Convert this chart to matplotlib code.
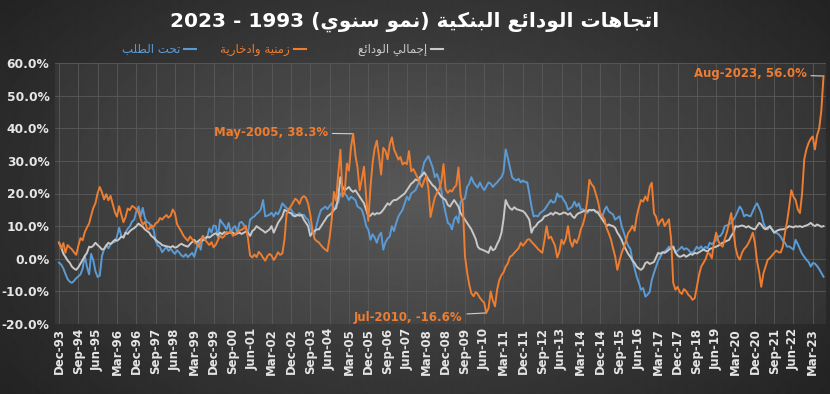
import numpy as np
import pandas as pd
import matplotlib
matplotlib.use('Agg')
import matplotlib.pyplot as plt

plt.rcParams['font.family'] = ['DejaVu Sans']

# ---- data: annual growth of bank deposits (%), monthly Dec-1993 .. Aug-2023 ----
months = pd.date_range('1993-12-01', '2023-08-01', freq='MS')

demand = [-1.2,
    -1.8, -3.0, -4.6, -6.2, -7.0, -7.4, -6.8, -6.0, -5.4, -4.8, -3.0, 1.0,
    -2.5, -4.8, 1.5, -0.5, -3.8, -5.6, -5.2, 0.8, 2.9, 4.3, 3.2, 4.4,
    4.9, 5.2, 6.8, 9.5, 7.0, 6.5, 8.0, 9.2, 10.0, 11.4, 12.0, 14.5,
    16.0, 13.0, 15.6, 12.5, 11.2, 11.0, 9.5, 9.0, 5.4, 4.1, 3.6, 2.0,
    2.8, 3.7, 2.4, 3.1, 2.2, 1.5, 2.6, 1.9, 1.0, 0.6, 1.4, 0.5,
    1.2, 1.8, 0.6, 3.0, 5.0, 2.8, 7.0, 5.8, 6.5, 9.3, 8.0, 10.2,
    10.0, 6.5, 12.0, 11.0, 10.2, 9.0, 11.0, 8.0, 9.5, 10.0, 7.8, 11.0,
    11.3, 10.4, 9.2, 8.0, 12.0, 12.6, 13.0, 13.8, 14.3, 15.2, 18.0, 13.0,
    13.2, 13.5, 14.1, 13.0, 14.2, 13.6, 15.0, 17.0, 16.2, 15.5, 15.0, 15.2,
    14.0, 13.6, 13.2, 14.0, 13.0, 13.5, 12.5, 12.0, 10.0, 8.0, 7.5, 10.5,
    13.0, 15.0, 15.4, 16.0, 15.2, 16.2, 17.0, 15.0, 16.5, 17.2, 20.0, 19.6,
    20.0, 19.2, 18.0, 19.0, 18.5, 18.0, 16.0, 15.6, 15.0, 13.0, 10.0, 9.0,
    5.8, 7.5, 6.5, 4.9, 7.0, 8.0, 2.8, 5.0, 6.2, 6.8, 10.0, 8.5,
    11.0, 13.0, 14.0, 15.0, 17.0, 19.0, 18.0, 20.0, 20.5, 21.0, 22.5, 24.0,
    26.5, 29.5, 30.5, 31.5, 29.8, 28.0, 25.0, 26.0, 24.0, 21.0, 17.0, 14.0,
    11.0, 10.5, 9.0, 12.0, 13.0, 11.0, 17.5, 18.0, 18.5, 22.0, 23.0, 25.0,
    23.4, 22.5, 21.8, 23.4, 22.0, 21.0, 22.2, 23.4, 23.0, 22.0, 22.8, 23.4,
    24.3, 25.0, 26.5, 33.5, 31.0, 28.0, 25.0, 24.3, 24.0, 24.5, 23.4, 24.0,
    23.5, 23.4, 20.0, 16.0, 13.0, 13.2, 13.0, 14.0, 14.5, 15.0, 16.0, 17.0,
    18.0, 17.2, 17.5, 20.0, 19.0, 19.2, 18.0, 17.0, 15.0, 15.5, 16.0, 17.5,
    16.0, 17.0, 15.0, 15.2, 14.5, 14.0, 14.8, 15.0, 15.0, 14.2, 14.5, 13.6,
    13.0, 15.0, 16.0, 14.5, 14.0, 13.6, 12.0, 12.5, 13.0, 10.0, 8.0, 5.8,
    4.0, 3.0, -0.3, -3.0, -5.5, -7.4, -9.5, -9.0, -11.6, -11.0, -10.2, -6.5,
    -4.3, -2.4, -0.6, 0.6, 1.8, 2.2, 2.8, 3.7, 3.5, 3.8, 1.8, 2.5,
    3.0, 3.7, 2.8, 3.2, 2.8, 2.0, 1.8, 2.6, 3.7, 3.0, 3.8, 2.8,
    3.7, 3.2, 4.9, 4.5, 5.0, 5.8, 6.8, 7.0, 8.0, 10.0, 10.2, 10.6,
    11.0, 12.0, 13.0, 14.5, 16.0, 15.0, 13.0, 13.5, 13.2, 13.0, 14.5, 16.0,
    17.0, 15.5, 14.0, 11.0, 9.5, 9.0, 10.0, 9.0, 8.0, 8.0, 7.5, 6.8,
    5.5, 4.9, 3.7, 3.8, 3.3, 2.8, 5.8, 4.5, 3.0, 1.5, 0.6, -0.3,
    -1.0, -2.4, -1.3, -1.5, -2.2, -3.2, -4.3, -5.5]

time_savings = [5.0,
    3.2, 4.8, 1.8, 4.2, 3.5, 2.9, 2.0, 1.2, 4.0, 6.3, 5.7, 8.1,
    9.6, 10.8, 13.2, 15.6, 17.0, 20.1, 22.0, 20.4, 18.2, 19.8, 17.9, 19.3,
    16.8, 14.3, 12.9, 16.1, 13.6, 11.2, 12.8, 15.4, 14.9, 16.2, 15.8, 15.1,
    14.2, 12.1, 10.4, 11.3, 9.4, 9.0, 10.3, 9.7, 10.9, 11.2, 12.5, 12.0,
    12.8, 13.4, 12.6, 13.2, 15.1, 13.9, 10.6, 9.4, 8.3, 7.0, 6.2, 5.5,
    6.8, 6.0, 5.1, 4.6, 3.7, 5.4, 7.0, 5.8, 5.0, 4.2, 5.1, 3.5,
    4.3, 5.8, 7.1, 6.4, 6.9, 8.2, 7.9, 8.4, 7.0, 7.6, 8.1, 8.6,
    8.9, 9.3, 10.1, 6.2, 1.0, 0.4, 1.3, 0.5, 2.1, 1.4, 0.3, -0.6,
    0.8, 1.5, 1.0, -0.4, 0.6, 2.0, 1.2, 1.6, 6.0, 13.8, 15.2, 16.1,
    17.3, 18.4, 17.9, 16.8, 18.6, 19.2, 18.7, 16.9, 13.5, 9.0, 6.1, 5.4,
    5.0, 4.1, 3.4, 2.8, 2.3, 6.5, 12.0, 20.5, 17.8, 26.0, 33.4, 19.0,
    20.5, 29.2, 27.0, 34.3, 38.3, 31.8, 28.0, 21.0, 24.5, 28.2, 19.0, 11.6,
    22.0, 29.5, 33.8, 36.2, 31.5, 25.8, 34.0, 33.1, 30.5, 35.0, 37.2, 33.5,
    32.0, 30.4, 31.2, 28.9, 29.5, 29.0, 33.0, 26.8, 27.5, 26.2, 24.8, 23.1,
    22.0, 24.0, 25.3, 21.5, 12.8, 16.0, 18.8, 20.2, 21.4, 23.6, 29.0, 21.3,
    20.2, 21.0, 20.6, 21.8, 22.5, 28.0, 19.5, 17.0, 0.8, -4.0, -8.0, -10.6,
    -11.5, -10.2, -10.8, -12.0, -12.8, -13.5, -16.6, -15.2, -10.0, -12.8, -14.6, -9.5,
    -6.5, -5.0, -4.2, -2.4, -1.5, 0.6, 1.0, 1.8, 2.5, 3.2, 4.9, 4.0,
    4.8, 5.8, 6.0, 5.2, 4.5, 3.8, 3.0, 2.4, 1.8, 5.5, 10.0, 6.2,
    6.8, 5.3, 4.0, 0.4, 2.1, 5.8, 4.5, 6.2, 10.0, 5.5, 3.7, 5.9,
    4.8, 6.5, 9.0, 10.6, 13.1, 18.0, 24.2, 22.8, 22.0, 19.8, 17.5, 14.1,
    13.0, 12.1, 9.4, 7.8, 6.0, 3.2, 0.7, -3.4, -0.5, 1.8, 3.6, 5.5,
    7.9, 8.8, 10.1, 8.6, 12.9, 15.8, 18.0, 17.5, 19.1, 17.8, 22.0, 23.3,
    14.0, 12.8, 10.2, 11.5, 12.2, 10.0, 11.0, 12.1, 6.0, -7.4, -9.5, -8.6,
    -10.2, -10.8, -9.3, -9.9, -11.0, -11.6, -12.6, -12.1, -8.6, -5.0, -2.4, -1.3,
    -0.2, 1.8, 1.5, 0.2, 4.9, 8.0, 5.5, 4.3, 3.7, 6.0, 8.1, 11.0,
    14.0, 8.5, 3.5, 0.8, -0.3, 1.8, 3.0, 3.7, 4.8, 6.2, 8.0, 5.0,
    -0.8, -4.3, -8.6, -4.5, -2.4, -0.3, 0.2, 1.0, 1.8, 2.5, 2.0, 1.9,
    3.7, 8.0, 11.2, 15.9, 21.0, 19.0, 18.0, 15.1, 14.0, 20.0, 30.5, 33.5,
    35.5, 36.8, 37.5, 33.5, 37.8, 40.0, 45.5, 56.0]

total = [4.9,
    3.5, 1.5, 0.6, -0.5, -1.2, -2.4, -3.0, -3.4, -2.6, -1.5, -0.3, 0.8,
    1.8, 3.7, 3.5, 4.0, 4.9, 4.2, 3.6, 2.8, 3.0, 4.0, 4.9, 4.5,
    5.2, 5.8, 5.5, 6.0, 6.8, 6.5, 8.0, 7.6, 8.5, 9.0, 9.4, 10.0,
    10.8, 10.2, 9.8, 9.0, 8.5, 8.0, 7.0, 6.5, 5.8, 5.2, 4.8, 4.2,
    4.0, 3.8, 3.7, 3.5, 3.9, 3.4, 3.6, 4.2, 4.6, 4.2, 3.9, 3.7,
    4.5, 5.2, 5.8, 5.0, 5.5, 6.0, 5.6, 6.2, 6.8, 6.5, 7.0, 7.5,
    7.8, 7.2, 8.0, 7.5, 8.2, 7.6, 7.9, 8.1, 8.0, 7.4, 7.8, 8.0,
    7.6, 8.0, 8.3, 8.0, 7.0, 8.5, 9.0, 10.0, 9.5, 9.0, 8.6, 8.0,
    8.5, 9.0, 10.0, 8.0, 9.5, 11.0, 12.0, 13.0, 15.0, 14.6, 14.2, 14.0,
    13.2, 13.0, 13.5, 13.2, 13.5, 12.0, 11.0, 10.0, 7.0, 8.0, 8.5, 9.0,
    9.0, 10.0, 11.0, 12.0, 13.0, 13.5, 14.0, 15.0, 15.5, 19.0, 25.0, 22.0,
    21.0, 21.5, 22.0, 21.0, 20.5, 21.0, 20.0, 19.0, 18.0, 17.0, 15.0, 13.0,
    13.2, 14.0, 13.5, 14.0, 13.8, 14.2, 15.0, 16.0, 17.0, 16.5, 17.5, 18.0,
    18.0, 18.5, 19.0, 19.5, 20.0, 21.0, 22.0, 23.0, 23.5, 24.3, 24.0, 25.0,
    25.5, 26.5, 25.5, 24.3, 23.4, 22.5, 22.0, 21.0, 20.0, 19.0, 18.5, 18.0,
    16.5, 16.0, 17.0, 18.0, 17.0, 16.0, 14.0, 13.0, 12.0, 11.0, 10.0, 9.0,
    7.5, 6.0, 3.7, 3.0, 2.8, 2.5, 2.2, 1.8, 3.7, 2.6, 3.0, 4.5,
    5.8, 8.0, 12.0, 18.0, 16.5, 15.5, 15.0, 15.8, 15.2, 15.0, 14.8, 14.6,
    14.0, 13.0, 12.0, 8.0, 9.5, 10.0, 11.0, 11.5, 12.0, 13.0, 13.2, 13.5,
    14.0, 13.5, 14.2, 14.0, 13.6, 13.8, 14.2, 14.0, 13.5, 14.0, 13.0, 12.5,
    13.5, 14.0, 14.2, 14.5, 14.8, 14.6, 15.0, 14.8, 15.0, 14.5, 14.0, 13.0,
    12.0, 11.0, 10.0, 10.5, 10.2, 10.0, 9.5, 8.0, 7.0, 5.8, 4.0, 2.8,
    1.5, 0.6, -0.5, -1.3, -2.4, -3.0, -3.4, -2.8, -1.3, -1.0, -1.6, -1.3,
    -1.0, 0.5, 1.8, 1.5, 2.0, 1.8, 2.2, 2.8, 3.2, 3.7, 2.0, 1.0,
    0.6, 0.8, 1.2, 0.6, 1.0, 1.5, 1.2, 1.8, 1.6, 2.0, 2.4, 2.8,
    2.5, 2.2, 3.0, 3.2, 3.5, 3.7, 4.0, 4.5, 4.9, 5.2, 5.5, 5.8,
    7.0, 8.0, 10.0, 9.8, 10.0, 10.2, 10.0, 9.6, 10.0, 9.5, 9.2, 9.0,
    10.0, 11.0, 10.5, 9.5, 9.0, 9.5, 10.0, 9.0, 8.0, 8.5, 8.8, 9.0,
    9.0, 9.2, 9.5, 10.0, 9.8, 9.6, 10.0, 9.8, 10.0, 9.7, 10.0, 10.2,
    10.5, 11.0, 10.4, 10.0, 10.5, 10.2, 9.8, 10.0]

# labelled points
notes = [('2005-05-01', 38.3), ('2010-07-01', -16.6), ('2023-08-01', 56.0)]

title_ar = 'اتجاهات الودائع البنكية (نمو سنوي)'
title_years = '2023 - 1993 '
names = ['تحت الطلب', 'زمنية وادخارية', 'إجمالي الودائع']

BLUE, ORANGE, GREY = '#5b9bd5', '#ed7d31', '#c8c8c8'

# ---- minimal Arabic shaping (matplotlib has no RTL/joining support) ----
FORMS = {
    'ا': ('\ufe8d', '\ufe8e', None, None), 'إ': ('\ufe87', '\ufe88', None, None),
    'ب': ('\ufe8f', '\ufe90', '\ufe91', '\ufe92'), 'ة': ('\ufe93', '\ufe94', None, None),
    'ت': ('\ufe95', '\ufe96', '\ufe97', '\ufe98'), 'ج': ('\ufe9d', '\ufe9e', '\ufe9f', '\ufea0'),
    'ح': ('\ufea1', '\ufea2', '\ufea3', '\ufea4'), 'خ': ('\ufea5', '\ufea6', '\ufea7', '\ufea8'),
    'د': ('\ufea9', '\ufeaa', None, None), 'ر': ('\ufead', '\ufeae', None, None),
    'ز': ('\ufeaf', '\ufeb0', None, None), 'س': ('\ufeb1', '\ufeb2', '\ufeb3', '\ufeb4'),
    'ط': ('\ufec1', '\ufec2', '\ufec3', '\ufec4'), 'ع': ('\ufec9', '\ufeca', '\ufecb', '\ufecc'),
    'ك': ('\ufed9', '\ufeda', '\ufedb', '\ufedc'), 'ل': ('\ufedd', '\ufede', '\ufedf', '\ufee0'),
    'م': ('\ufee1', '\ufee2', '\ufee3', '\ufee4'), 'ن': ('\ufee5', '\ufee6', '\ufee7', '\ufee8'),
    'ه': ('\ufee9', '\ufeea', '\ufeeb', '\ufeec'), 'و': ('\ufeed', '\ufeee', None, None),
    'ي': ('\ufef1', '\ufef2', '\ufef3', '\ufef4'), 'ئ': ('\ufe89', '\ufe8a', '\ufe8b', '\ufe8c'),
}


def ar(text):
    out = []
    for i, c in enumerate(text):
        if c not in FORMS:
            out.append(c)
            continue
        prev = text[i - 1] if i > 0 else ''
        nxt = text[i + 1] if i + 1 < len(text) else ''
        iso, fin, ini, med = FORMS[c]
        jp = prev in FORMS and FORMS[prev][2] is not None
        jn = ini is not None and nxt in FORMS
        if jp and jn:
            out.append(med)
        elif jp:
            out.append(fin)
        elif jn:
            out.append(ini)
        else:
            out.append(iso)
    s = ''.join(out)[::-1]
    return s.translate(str.maketrans('()', ')('))


# ---- figure ----
W, H = 830, 394
fig = plt.figure(figsize=(W / 100, H / 100), dpi=100)

# dark radial background
yy, xx = np.mgrid[0:H, 0:W]
r = np.sqrt(((xx - W * 0.5) / (W * 0.62)) ** 2 + ((yy - H * 0.5) / (H * 0.8)) ** 2)
shade = np.clip(0.31 - 0.17 * r, 0.1, 0.32)
bg = fig.add_axes([0, 0, 1, 1], zorder=-10)
bg.imshow(shade, cmap='gray', vmin=0, vmax=1, aspect='auto', interpolation='bilinear')
bg.axis('off')

ax = fig.add_axes([55 / W, 1 - 324 / H, (826 - 55) / W, (324 - 63) / H])
ax.set_facecolor((1, 1, 1, 0.05))

ax.plot(months, demand, color=BLUE, lw=1.4, zorder=3)
ax.plot(months, time_savings, color=ORANGE, lw=1.4, zorder=4)
ax.plot(months, total, color=GREY, lw=1.4, zorder=3)

ax.set_ylim(-20, 60)
ax.set_yticks(np.arange(-20, 61, 10))
ax.set_yticklabels([f'{v:.1f}%' for v in np.arange(-20, 61, 10)])
ax.set_xlim(months[0] - pd.Timedelta(days=57), months[-1] + pd.Timedelta(days=35))
ticks = pd.date_range('1993-12-01', '2023-03-01', freq='9MS')
ax.set_xticks(ticks)
ax.set_xticklabels([d.strftime('%b-%y') for d in ticks], rotation=90)

ax.tick_params(length=0, colors='#e6e6e6', labelsize=8.5)
ax.tick_params(axis='y', labelsize=8.8, pad=4)
ax.tick_params(axis='x', pad=3)
for lab in ax.get_xticklabels() + ax.get_yticklabels():
    lab.set_fontweight('bold')
ax.grid(True, color='#5a5a5a', lw=0.6)
ax.set_axisbelow(True)
for s in ax.spines.values():
    s.set_visible(False)

# call-outs
offsets = [(-18, 1), (-17, -3), (-12, 1.5)]
for (d, v), off in zip(notes, offsets):
    d = pd.Timestamp(d)
    ax.annotate(f"{d.strftime('%b-%Y')}, {v:.1f}%", xy=(d, v), xytext=off,
                textcoords='offset points', ha='right', va='center',
                color=ORANGE, fontsize=8.5, fontweight='bold',
                arrowprops=dict(arrowstyle='-', color='#d0d0d0', lw=0.8,
                                shrinkA=1, shrinkB=0))

# title
fig.text(0.5, 1 - 22 / H, title_years + ar(title_ar), ha='center', va='center',
         color='white', fontsize=14.5, fontweight='bold')

# legend (drawn by hand: text, then key line to its right)
for name, col, xr in zip(names, [BLUE, ORANGE, GREY], [180, 290, 427]):
    fig.text(xr / W, 1 - 49 / H, ar(name), ha='right', va='center',
             color=col, fontsize=8.5)
    fig.add_artist(plt.Line2D([(xr + 4) / W, (xr + 16) / W], [1 - 49 / H] * 2,
                              color=col, lw=1.5))

fig.savefig('out.png', dpi=100)
